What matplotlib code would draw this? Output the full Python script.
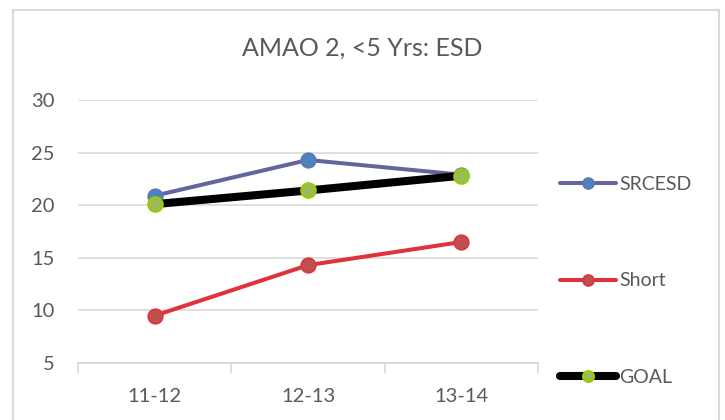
import matplotlib
matplotlib.use("Agg")
import matplotlib.pyplot as plt
from matplotlib.patches import Rectangle

# Chart data
categories = ["11-12", "12-13", "13-14"]
srcesd = [20.9, 24.3, 22.9]
short = [9.5, 14.3, 16.5]
goal = [20.1, 21.4, 22.8]
y_ticks = [5, 10, 15, 20, 25, 30]

plt.rcParams['font.family'] = ['Lato', 'DejaVu Sans']
text_color = "#595959"
grid_color = "#d9d9d9"

fig = plt.figure(figsize=(7.25, 4.2), dpi=100)
fig.patch.set_facecolor("white")

# Outer chart border
fig.patches.append(Rectangle((13 / 725, -0.05), (719 - 13) / 725, 1.05 - 10 / 420,
                             transform=fig.transFigure, fill=False,
                             edgecolor="#d9d9d9", linewidth=1.5))

ax = fig.add_axes([78 / 725, (420 - 363) / 420, (538 - 78) / 725, (363 - 100) / 420])

x = list(range(len(categories)))
ax.plot(x, srcesd, color="#64649e", linewidth=2.9, marker="o", markersize=10.5,
        markerfacecolor="#4f81bd", markeredgecolor="#5a78b4", markeredgewidth=1.2,
        label="SRCESD", zorder=3, solid_capstyle="round")
ax.plot(x, short, color="#e0323c", linewidth=2.9, marker="o", markersize=10.5,
        markerfacecolor="#c0504d", markeredgecolor="#e0323c", markeredgewidth=1.2,
        label="Short", zorder=3, solid_capstyle="round")
ax.plot(x, goal, color="black", linewidth=5.8, marker="o", markersize=10.5,
        markerfacecolor="#9bbb59", markeredgecolor="#99cc00", markeredgewidth=1.5,
        label="GOAL", zorder=4, solid_capstyle="round")

ax.set_xlim(-0.5, len(categories) - 0.5)
ax.set_ylim(y_ticks[0], y_ticks[-1])
ax.set_yticks(y_ticks)
ax.set_xticks(x)
ax.set_xticklabels(categories)
ax.set_xticks([i - 0.5 for i in range(len(categories) + 1)], minor=True)

ax.grid(axis="y", color=grid_color, linewidth=1.2)
ax.set_axisbelow(True)
for side in ["top", "right", "left"]:
    ax.spines[side].set_visible(False)
ax.spines["bottom"].set_color(grid_color)
ax.spines["bottom"].set_linewidth(1.5)

ax.tick_params(axis="y", length=0, pad=17, labelsize=14.5, labelcolor=text_color)
ax.tick_params(axis="x", which="major", length=0, pad=18, labelsize=14.5, labelcolor=text_color)
ax.tick_params(axis="x", which="minor", length=7, width=1.2, color=grid_color)

fig.text(0.5, (420 - 48) / 420, "AMAO 2, <5 Yrs: ESD", ha="center", va="center",
         fontsize=18, color=text_color)

leg = ax.legend(loc="center left", bbox_to_anchor=(550 / 725, (420 - 281) / 420),
                bbox_transform=fig.transFigure, frameon=False, fontsize=14,
                labelspacing=4.1, handlelength=2.9, handletextpad=0.15,
                borderpad=0, markerscale=0.75)
for t in leg.get_texts():
    t.set_color(text_color)

fig.savefig("out.png", dpi=100, facecolor="white")
